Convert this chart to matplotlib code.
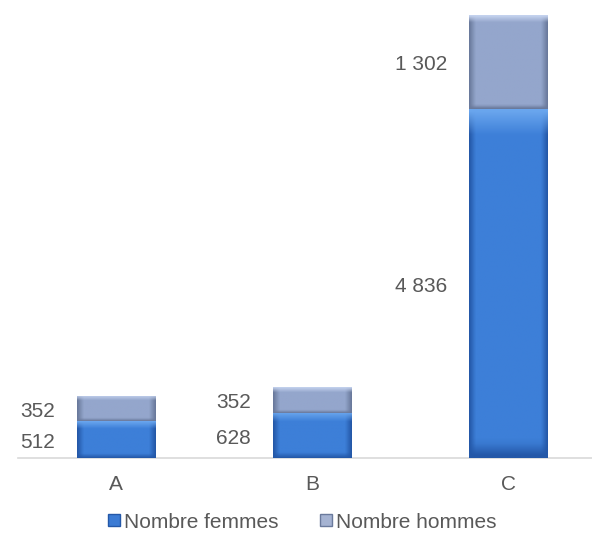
import numpy as np
import matplotlib
matplotlib.use("Agg")
from matplotlib import pyplot as plt
from matplotlib.lines import Line2D

categories = ["A", "B", "C"]
femmes = [512, 628, 4836]
hommes = [352, 352, 1302]
labels_femmes = ["512", "628", "4 836"]
labels_hommes = ["352", "352", "1 302"]

plt.rcParams["font.family"] = ["Liberation Sans", "DejaVu Sans"]
text_color = "#595959"


def shade(ax, bar, base, light, dark):
    # horizontal bevel: darker edges, lighter middle, plus a bright top strip
    x0, y0 = bar.get_x(), bar.get_y()
    w, h = bar.get_width(), bar.get_height()
    xs = np.linspace(0, 1, 60)
    edge = np.clip(np.minimum(xs, 1 - xs) / 0.08, 0, 1)
    cols = np.array([matplotlib.colors.to_rgb(c) for c in (dark, base)])
    row = cols[0] * (1 - edge[:, None]) + cols[1] * edge[:, None]
    ys = np.linspace(0, 1, 60)
    img = np.repeat(row[None, :, :], len(ys), axis=0)
    lt = np.array(matplotlib.colors.to_rgb(light))
    dk = np.array(matplotlib.colors.to_rgb(dark))
    top = np.clip((ys - 0.93) / 0.07, 0, 1) if h > 1000 else np.clip((ys - 0.8) / 0.2, 0, 1)
    bot = np.clip((0.04 - ys) / 0.04, 0, 1) if h > 1000 else np.clip((0.12 - ys) / 0.12, 0, 1)
    img = img * (1 - top[:, None, None]) + lt * top[:, None, None]
    img = img * (1 - bot[:, None, None]) + dk * bot[:, None, None]
    im = ax.imshow(img, extent=[x0, x0 + w, y0, y0 + h], origin="lower",
                   aspect="auto", zorder=3, interpolation="bilinear")
    im.set_clip_path(bar)


def main():
    fig = plt.figure(figsize=(5.92, 5.33), dpi=100)
    ax = fig.add_axes([18 / 592, 75 / 533, 1 - 18 / 592, 458 / 533])
    x = np.arange(len(categories))
    w = 0.4
    b1 = ax.bar(x, femmes, w, color="#3b7bd4", zorder=2)
    b2 = ax.bar(x, hommes, w, bottom=femmes, color="#8ea0c6", zorder=2)
    for bar in b1:
        shade(ax, bar, "#3d7fd8", "#6aa6ee", "#2458a8")
    for bar in b2:
        shade(ax, bar, "#94a6cc", "#c4d2ee", "#6a7a9c")

    for i in range(len(categories)):
        xl = x[i] - w / 2 - 0.11
        ax.annotate(labels_femmes[i], (xl, femmes[i] / 2), xytext=(0, -2),
                    textcoords="offset points", ha="right", va="center",
                    fontsize=15, color=text_color)
        ax.annotate(labels_hommes[i], (xl, femmes[i] + hommes[i] / 2),
                    xytext=(0, -2), textcoords="offset points", ha="right",
                    va="center", fontsize=15, color=text_color)

    ax.set_xlim(-0.5, (592 - 116) / 196)
    ax.set_ylim(0, 458 / 443 * 6138)
    for s in ["top", "right", "left"]:
        ax.spines[s].set_visible(False)
    ax.spines["bottom"].set_color("#d9d9d9")
    ax.spines["bottom"].set_linewidth(1.2)
    ax.set_yticks([])
    ax.set_xticks(x)
    ax.set_xticklabels(categories, fontsize=15, color=text_color)
    ax.tick_params(axis="x", length=0, pad=12)

    handles = [
        Line2D([], [], marker="s", linestyle="", markersize=8.5,
               markerfacecolor="#3b7bd4", markeredgecolor="#2458a8"),
        Line2D([], [], marker="s", linestyle="", markersize=8.5,
               markerfacecolor="#a5b3d2", markeredgecolor="#6a7a9c"),
    ]
    fig.legend(handles, ["Nombre femmes", "Nombre hommes"], loc="center",
               bbox_to_anchor=(301 / 592, 1 - 522 / 533), ncol=2, frameon=False,
               fontsize=15, labelcolor=text_color, handletextpad=0.05,
               columnspacing=1.9, handlelength=0.8)
    fig.savefig("out.png", dpi=100)


if __name__ == "__main__":
    main()
